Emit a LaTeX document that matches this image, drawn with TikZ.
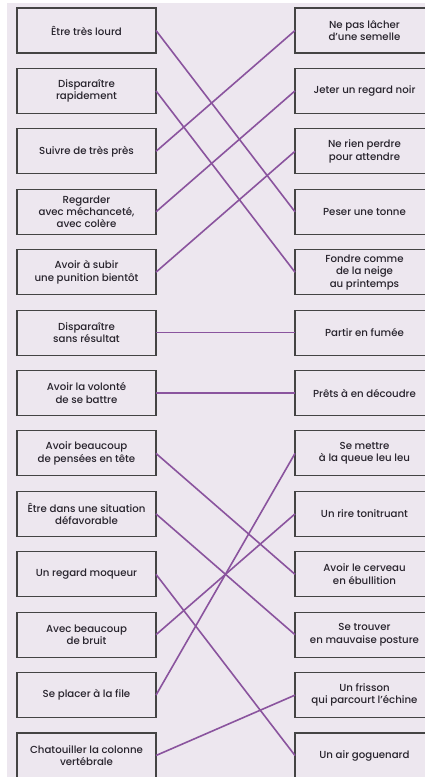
\documentclass[tikz,border=0pt]{standalone}
\usepackage{fontspec}
\setmainfont{Poppins}[BoldFont={Poppins Medium}]
\definecolor{bgc}{RGB}{237,231,239}
\definecolor{linec}{RGB}{138,84,158}
\definecolor{boxc}{RGB}{68,68,68}
\definecolor{txtc}{RGB}{40,36,45}
\begin{document}
\begin{tikzpicture}[x=1pt,y=-1pt,
  cardbox/.style={draw=boxc,line width=1.1pt,minimum width=139pt,minimum height=45pt,
    inner sep=1pt,outer sep=0pt,align=center,text=txtc,
    font=\fontsize{10.2}{12.4}\selectfont\bfseries},
  link/.style={draw=linec,line width=1.6pt}]
\useasboundingbox (0,0) rectangle (425,777);
\clip (0,0) rectangle (425,777);
\fill[bgc] (7,3) rectangle (425,777);
% left column
\node[cardbox] (l1)  at (86.5,30.5)  {Être très lourd};
\node[cardbox] (l2)  at (86.5,90.9)  {Disparaître\\rapidement};
\node[cardbox] (l3)  at (86.5,151.3) {Suivre de très près};
\node[cardbox] (l4)  at (86.5,211.8) {Regarder\\avec méchanceté,\\avec colère};
\node[cardbox] (l5)  at (86.5,272.2) {Avoir à subir\\une punition bientôt};
\node[cardbox] (l6)  at (86.5,332.6) {Disparaître\\sans résultat};
\node[cardbox] (l7)  at (86.5,393.0) {Avoir la volonté\\de se battre};
\node[cardbox] (l8)  at (86.5,453.4) {Avoir beaucoup\\de pensées en tête};
\node[cardbox] (l9)  at (86.5,513.9) {Être dans une situation\\défavorable};
\node[cardbox] (l10) at (86.5,574.3) {Un regard moqueur};
\node[cardbox] (l11) at (86.5,634.7) {Avec beaucoup\\de bruit};
\node[cardbox] (l12) at (86.5,695.1) {Se placer à la file};
\node[cardbox] (l13) at (86.5,755.5) {Chatouiller la colonne\\vertébrale};
% right column
\node[cardbox] (r1)  at (364.5,30.5)  {Ne pas lâcher\\d'une semelle};
\node[cardbox] (r2)  at (364.5,90.9)  {Jeter un regard noir};
\node[cardbox] (r3)  at (364.5,151.3) {Ne rien perdre\\pour attendre};
\node[cardbox] (r4)  at (364.5,211.8) {Peser une tonne};
\node[cardbox] (r5)  at (364.5,272.2) {Fondre comme\\de la neige\\au printemps};
\node[cardbox] (r6)  at (364.5,332.6) {Partir en fumée};
\node[cardbox] (r7)  at (364.5,393.0) {Prêts à en découdre};
\node[cardbox] (r8)  at (364.5,453.4) {Se mettre\\à la queue leu leu};
\node[cardbox] (r9)  at (364.5,513.9) {Un rire tonitruant};
\node[cardbox] (r10) at (364.5,574.3) {Avoir le cerveau\\en ébullition};
\node[cardbox] (r11) at (364.5,634.7) {Se trouver\\en mauvaise posture};
\node[cardbox] (r12) at (364.5,695.1) {Un frisson\\qui parcourt l'échine};
\node[cardbox] (r13) at (364.5,755.5) {Un air goguenard};
% links
\draw[link] (l1.east) -- (r4.west);
\draw[link] (l2.east) -- (r5.west);
\draw[link] (l3.east) -- (r1.west);
\draw[link] (l4.east) -- (r2.west);
\draw[link] (l5.east) -- (r3.west);
\draw[link] (l6.east) -- (r6.west);
\draw[link] (l7.east) -- (r7.west);
\draw[link] (l8.east) -- (r10.west);
\draw[link] (l9.east) -- (r11.west);
\draw[link] (l10.east) -- (r13.west);
\draw[link] (l11.east) -- (r9.west);
\draw[link] (l12.east) -- (r8.west);
\draw[link] (l13.east) -- (r12.west);
\end{tikzpicture}
\end{document}
